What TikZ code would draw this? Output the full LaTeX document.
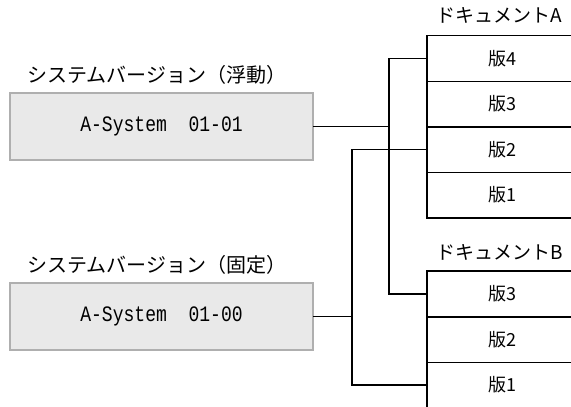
\documentclass[tikz,border=0pt]{standalone}
\usepackage{fontspec}
\setmainfont{Noto Sans CJK JP}
\newfontfamily\monofont[FakeStretch=0.82]{Liberation Mono}
\usepackage{tikz}
\usetikzlibrary{calc}
\definecolor{boxgray}{RGB}{233, 233, 233}
\definecolor{edgegray}{RGB}{175, 175, 175}
\tikzset{
  sysbox/.style={draw=edgegray, fill=boxgray, line width=1.8pt, minimum width=303pt, minimum height=67pt, inner sep=0pt, font=\monofont\fontsize{22}{24}\selectfont},
  cell/.style={minimum width=150pt, minimum height=45.5pt, inner sep=0pt, font=\fontsize{18}{20}\selectfont},
  title/.style={anchor=west, inner sep=0pt, font=\fontsize{20}{24}\selectfont},
  link/.style={line width=1.8pt, line cap=rect}
}

\begin{document}
\begin{tikzpicture}[x=1pt, y=-1pt]
\useasboundingbox (0,0) rectangle (571,407);
\node[title] (tfl) at (27,75) {システムバージョン（浮動）};
\node[sysbox] (fl) at (161.5,126.5) {A-System\ \ 01-01};
\node[title] (tfx) at (27,265) {システムバージョン（固定）};
\node[sysbox] (fx) at (161.5,316.5) {A-System\ \ 01-00};
% ドキュメントA
\node[title, font=\fontsize{19}{22}\selectfont] (tda) at (436,15) {ドキュメントA};
\node[cell] (a4) at (502,58.5) {版4};
\node[cell] (a3) at (502,104) {版3};
\node[cell] (a2) at (502,149.5) {版2};
\node[cell] (a1) at (502,195) {版1};
\draw[link] (a4.north east) -- (a4.north west) -- (a1.south west) -- (a1.south east);
\draw[link] (a4.south west) -- (a4.south east);
\draw[link] (a3.south west) -- (a3.south east);
\draw[link] (a2.south west) -- (a2.south east);
% ドキュメントB
\node[title, font=\fontsize{19}{22}\selectfont] (tdb) at (436,252) {ドキュメントB};
\node[cell] (b3) at (502,294) {版3};
\node[cell] (b2) at (502,339.5) {版2};
\node[cell] (b1) at (502,385) {版1};
\draw[link] (b3.north east) -- (b3.north west) -- (b1.south west);
\draw[link] (b3.south west) -- (b3.south east);
\draw[link] (b2.south west) -- (b2.south east);
% connectors
\coordinate (jfl) at (389,126.5);
\coordinate (jfx) at (352,316.5);
\draw[link] (fl.east) -- (jfl);
\draw[link] (a4.west) -| (jfl) |- (b3.west);
\draw[link] (fx.east) -- (jfx);
\draw[link] (a2.west) -| (jfx) |- (b1.west);
\end{tikzpicture}
\end{document}
